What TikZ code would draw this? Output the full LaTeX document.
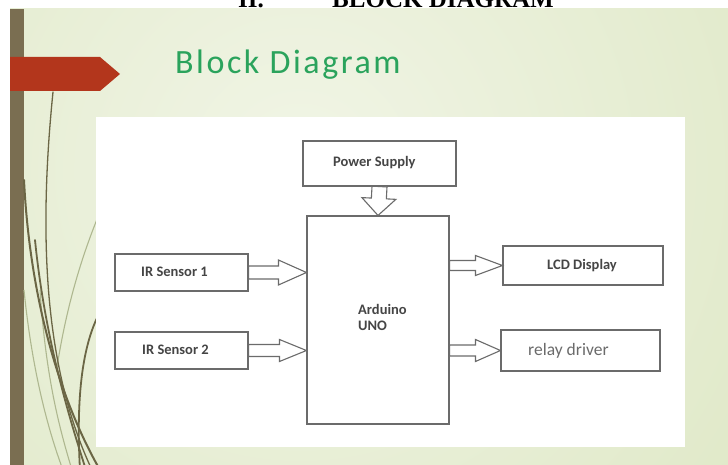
\documentclass[tikz,border=0pt]{standalone}
\usepackage{fontspec}
\setmainfont{Carlito}
\newfontfamily\headfont{Liberation Serif}
\newfontfamily\titlefont[LetterSpace=7.5]{Carlito}
\usetikzlibrary{calc}
\definecolor{slide-light}{HTML}{F1F5E6}
\definecolor{slide-dark}{HTML}{D9E4BC}
\definecolor{bar-brown}{HTML}{7A6E51}
\definecolor{banner-red}{HTML}{B3361C}
\definecolor{title-green}{HTML}{2AA35C}
\definecolor{wisp-dark}{HTML}{6B6645}
\definecolor{wisp-light}{HTML}{AEB78F}
\definecolor{box-gray}{HTML}{6B6B6B}
\definecolor{text-gray}{HTML}{454545}

\begin{document}
\begin{tikzpicture}[x=1pt, y=-1pt]
	\tikzset{blk/.style={rectangle, draw=box-gray, line width=1.1pt, fill=white, inner sep=0pt}}
	\tikzset{lbl/.style={anchor=base west, inner sep=0pt, text=text-gray, font=\bfseries\fontsize{14.5}{16}\selectfont}}
	\tikzset{wisp/.style={draw=wisp-dark, line width=1.8pt, line cap=round}}
	\tikzset{hollow/.style n args={3}{draw=box-gray, line width=1.1pt, line join=miter, fill=white, to path={($(\tikztotarget)!#3!(\tikztostart)$) coordinate (hb) ($(\tikztostart)!#1!90:(\tikztotarget)$) -- ($(hb)!#1!-90:(\tikztostart)$) -- ($(hb)!#2!-90:(\tikztostart)$) -- (\tikztotarget) -- ($(hb)!#2!90:(\tikztostart)$) -- ($(hb)!#1!90:(\tikztostart)$) -- ($(\tikztostart)!#1!-90:(\tikztotarget)$) -- cycle}}}
	
	\useasboundingbox (0,0) rectangle (728,465);
	\fill[white] (0,0) rectangle (728,465);
	\begin{scope}
		\clip (10,9) rectangle (728,465);
		\shade[inner color=slide-light, outer color=slide-dark] (300,170) circle (760);
		\fill[bar-brown] (10,9) rectangle (24,465);
		% wisps
		\draw[wisp-light, line width=1.1pt] (100,212) .. controls (80,260) and (66,310) .. (57,367);
		\draw[wisp-light, line width=1.1pt] (24,290) .. controls (32,370) and (48,430) .. (63,470);
		\draw[wisp-light, line width=1.1pt] (40,290) .. controls (46,380) and (60,430) .. (72,470);
		\draw[wisp, line width=2pt] (24,180) .. controls (30,300) and (60,400) .. (100,470);
		\draw[wisp, line width=1.3pt] (53,92) .. controls (38,240) and (45,370) .. (92,470);
		\draw[wisp] (35,240) .. controls (45,340) and (70,420) .. (86,470);
		\draw[wisp] (97,318) .. controls (82,350) and (76,400) .. (80,470);
	\end{scope}
	\fill[banner-red] (10,57) -- (100,57) -- (120,74) -- (100,91) -- (10,91) -- cycle;
	\node[anchor=base west, inner sep=0pt, text=title-green, font=\titlefont\fontsize{34}{38}\selectfont] (title) at (175,73.5) {Block Diagram};
	\node[anchor=base west, inner sep=0pt, font=\headfont\bfseries\fontsize{25}{28}\selectfont] (headnum) at (238,7.5) {II.};
	\node[anchor=base west, inner sep=0pt, font=\headfont\bfseries\fontsize{25}{28}\selectfont] (head) at (332,7.5) {BLOCK DIAGRAM};
	\fill[white] (96,117) rectangle (685,447);
	
	\node[blk, minimum width=153pt, minimum height=45pt] (ps) at (379.5,163.5) {};
	\node[blk, minimum width=142pt, minimum height=208pt] (uno) at (378,320) {};
	\node[blk, minimum width=133pt, minimum height=37pt] (ir1) at (181.5,272.5) {};
	\node[blk, minimum width=133pt, minimum height=37pt] (ir2) at (181.5,350.5) {};
	\node[blk, minimum width=160pt, minimum height=39pt] (lcd) at (583,265.5) {};
	\node[blk, minimum width=159pt, minimum height=41pt] (relay) at (580.5,350.5) {};
	
	\node[lbl] (pstxt) at (333,166.5) {Power Supply};
	\node[lbl, align=left] (unotxt) at (358,330) {Arduino\\UNO};
	\node[lbl] (ir1txt) at (141,276) {IR Sensor 1};
	\node[lbl] (ir2txt) at (142,354.5) {IR Sensor 2};
	\node[lbl] (lcdtxt) at (547,269.5) {LCD Display};
	\node[lbl, font=\fontsize{17.5}{20}\selectfont, text=box-gray] (relaytxt) at (528,355) {relay driver};
	
	\draw[hollow={7.5pt}{17pt}{17pt}] (ps.south) to (uno.north);
	\draw[hollow={6.5pt}{12.5pt}{28pt}] (ir1.east) to (uno.west |- ir1.east);
	\draw[hollow={6pt}{11pt}{27pt}] (ir2.east) to (uno.west |- ir2.east);
	\draw[hollow={5pt}{10pt}{27pt}] (uno.east |- lcd.west) to (lcd.west);
	\draw[hollow={5.5pt}{11pt}{25pt}] (uno.east |- relay.west) to (relay.west);
\end{tikzpicture}
\end{document}
